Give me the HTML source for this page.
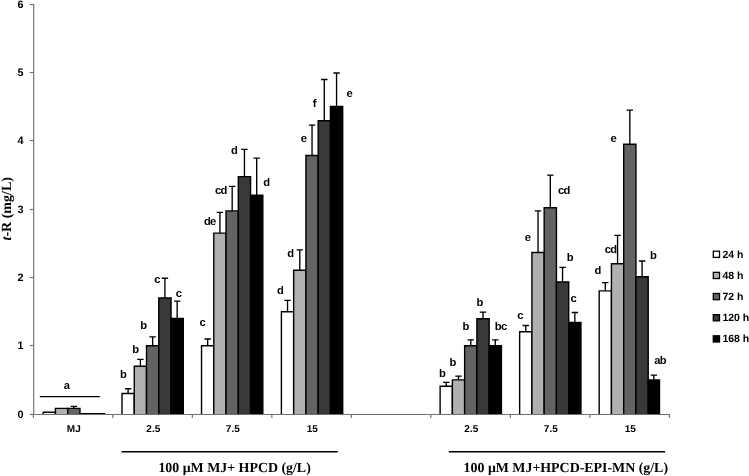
<!DOCTYPE html>
<html lang="en"><head><meta charset="utf-8"><title>t-R chart</title>
<style>html,body{margin:0;padding:0;background:#fff;}body{width:749px;height:476px;overflow:hidden;}svg{display:block;}.s{font-family:"Liberation Sans",sans-serif;font-weight:bold;fill:#000;}.t{font-family:"Liberation Serif",serif;font-weight:bold;fill:#000;}</style></head><body>
<svg width="749" height="476" viewBox="0 0 749 476" text-rendering="geometricPrecision">
<rect width="749" height="476" fill="#fff"/>
<g stroke="#000" stroke-width="1.4">
<path d="M43.20 414.5V412.30H55.46V414.5" fill="#ffffff"/>
<path d="M55.46 414.5V408.41H67.72V414.5" fill="#b0b0b0"/>
<path d="M73.85 408.41V406.36M70.65 406.36H77.05" fill="none" stroke-width="1.35"/>
<path d="M67.72 414.5V408.41H79.98V414.5" fill="#636363"/>
<path d="M79.98 414.5V413.73H92.24V414.5" fill="#393939"/>
<path d="M92.24 414.5V413.73H104.50V414.5" fill="#000000"/>
<path d="M128.13 393.54V388.77M124.93 388.77H131.33" fill="none" stroke-width="1.35"/>
<path d="M122.00 414.5V393.54H134.26V414.5" fill="#ffffff"/>
<path d="M140.39 366.26V359.44M137.19 359.44H143.59" fill="none" stroke-width="1.35"/>
<path d="M134.26 414.5V366.26H146.52V414.5" fill="#b0b0b0"/>
<path d="M152.65 345.80V336.93M149.45 336.93H155.85" fill="none" stroke-width="1.35"/>
<path d="M146.52 414.5V345.80H158.78V414.5" fill="#636363"/>
<path d="M164.91 298.06V278.28M161.71 278.28H168.11" fill="none" stroke-width="1.35"/>
<path d="M158.78 414.5V298.06H171.04V414.5" fill="#393939"/>
<path d="M177.17 318.52V301.13M173.97 301.13H180.37" fill="none" stroke-width="1.35"/>
<path d="M171.04 414.5V318.52H183.30V414.5" fill="#000000"/>
<path d="M207.66 345.80V338.98M204.46 338.98H210.86" fill="none" stroke-width="1.35"/>
<path d="M201.53 414.5V345.80H213.79V414.5" fill="#ffffff"/>
<path d="M219.92 233.13V212.33M216.72 212.33H223.12" fill="none" stroke-width="1.35"/>
<path d="M213.79 414.5V233.13H226.05V414.5" fill="#b0b0b0"/>
<path d="M232.18 210.90V186.35M228.98 186.35H235.38" fill="none" stroke-width="1.35"/>
<path d="M226.05 414.5V210.90H238.31V414.5" fill="#636363"/>
<path d="M244.44 176.66V149.38M241.24 149.38H247.64" fill="none" stroke-width="1.35"/>
<path d="M238.31 414.5V176.66H250.57V414.5" fill="#393939"/>
<path d="M256.70 195.21V158.05M253.50 158.05H259.90" fill="none" stroke-width="1.35"/>
<path d="M250.57 414.5V195.21H262.83V414.5" fill="#000000"/>
<path d="M287.53 311.70V300.31M284.33 300.31H290.73" fill="none" stroke-width="1.35"/>
<path d="M281.40 414.5V311.70H293.66V414.5" fill="#ffffff"/>
<path d="M299.79 270.30V249.84M296.59 249.84H302.99" fill="none" stroke-width="1.35"/>
<path d="M293.66 414.5V270.30H305.92V414.5" fill="#b0b0b0"/>
<path d="M312.05 155.52V125.17M308.85 125.17H315.25" fill="none" stroke-width="1.35"/>
<path d="M305.92 414.5V155.52H318.18V414.5" fill="#636363"/>
<path d="M324.31 120.74V79.48M321.11 79.48H327.51" fill="none" stroke-width="1.35"/>
<path d="M318.18 414.5V120.74H330.44V414.5" fill="#393939"/>
<path d="M336.57 106.42V73.00M333.37 73.00H339.77" fill="none" stroke-width="1.35"/>
<path d="M330.44 414.5V106.42H342.70V414.5" fill="#000000"/>
<path d="M446.25 386.24V382.36M443.05 382.36H449.45" fill="none" stroke-width="1.35"/>
<path d="M440.12 414.5V386.24H452.38V414.5" fill="#ffffff"/>
<path d="M458.51 379.90V376.15M455.31 376.15H461.71" fill="none" stroke-width="1.35"/>
<path d="M452.38 414.5V379.90H464.64V414.5" fill="#b0b0b0"/>
<path d="M470.77 345.80V339.80M467.57 339.80H473.97" fill="none" stroke-width="1.35"/>
<path d="M464.64 414.5V345.80H476.90V414.5" fill="#636363"/>
<path d="M483.03 318.79V312.11M479.83 312.11H486.23" fill="none" stroke-width="1.35"/>
<path d="M476.90 414.5V318.79H489.16V414.5" fill="#393939"/>
<path d="M495.29 345.80V339.80M492.09 339.80H498.49" fill="none" stroke-width="1.35"/>
<path d="M489.16 414.5V345.80H501.42V414.5" fill="#000000"/>
<path d="M525.78 331.82V325.48M522.58 325.48H528.98" fill="none" stroke-width="1.35"/>
<path d="M519.65 414.5V331.82H531.91V414.5" fill="#ffffff"/>
<path d="M538.04 252.43V210.83M534.84 210.83H541.24" fill="none" stroke-width="1.35"/>
<path d="M531.91 414.5V252.43H544.17V414.5" fill="#b0b0b0"/>
<path d="M550.30 207.69V175.10M547.10 175.10H553.50" fill="none" stroke-width="1.35"/>
<path d="M544.17 414.5V207.69H556.43V414.5" fill="#636363"/>
<path d="M562.56 282.03V267.37M559.36 267.37H565.76" fill="none" stroke-width="1.35"/>
<path d="M556.43 414.5V282.03H568.69V414.5" fill="#393939"/>
<path d="M574.82 322.41V312.52M571.62 312.52H578.02" fill="none" stroke-width="1.35"/>
<path d="M568.69 414.5V322.41H580.95V414.5" fill="#000000"/>
<path d="M605.31 290.83V282.65M602.11 282.65H608.51" fill="none" stroke-width="1.35"/>
<path d="M599.18 414.5V290.83H611.44V414.5" fill="#ffffff"/>
<path d="M617.57 263.69V235.32M614.37 235.32H620.77" fill="none" stroke-width="1.35"/>
<path d="M611.44 414.5V263.69H623.70V414.5" fill="#b0b0b0"/>
<path d="M629.83 144.20V110.10M626.63 110.10H633.03" fill="none" stroke-width="1.35"/>
<path d="M623.70 414.5V144.20H635.96V414.5" fill="#636363"/>
<path d="M642.09 276.71V261.03M638.89 261.03H645.29" fill="none" stroke-width="1.35"/>
<path d="M635.96 414.5V276.71H648.22V414.5" fill="#393939"/>
<path d="M653.85 379.90V375.19M650.65 375.19H657.05" fill="none" stroke-width="1.35"/>
<path d="M648.22 414.5V379.90H659.48V414.5" fill="#000000"/>
</g>
<g stroke="#707070" stroke-width="1.15" fill="none">
<path d="M33.70 4V414.5"/>
<path d="M33.35 414.5H669.9"/>
<path d="M29.65 414.5H33.85"/>
<path d="M29.65 345.5H33.85"/>
<path d="M29.65 277.5H33.85"/>
<path d="M29.65 209.5H33.85"/>
<path d="M29.65 140.5H33.85"/>
<path d="M29.65 72.5H33.85"/>
<path d="M29.65 4.5H33.85"/>
<path d="M33.35 414.0V418.0"/>
<path d="M112.85 414.0V418.0"/>
<path d="M192.35 414.0V418.0"/>
<path d="M271.85 414.0V418.0"/>
<path d="M351.35 414.0V418.0"/>
<path d="M430.85 414.0V418.0"/>
<path d="M510.35 414.0V418.0"/>
<path d="M589.85 414.0V418.0"/>
<path d="M669.35 414.0V418.0"/>
</g>
<text class="s" x="23.5" y="418.25" font-size="10.8" text-anchor="end">0</text>
<text class="s" x="23.5" y="349.25" font-size="10.8" text-anchor="end">1</text>
<text class="s" x="23.5" y="281.25" font-size="10.8" text-anchor="end">2</text>
<text class="s" x="23.5" y="213.25" font-size="10.8" text-anchor="end">3</text>
<text class="s" x="23.5" y="144.25" font-size="10.8" text-anchor="end">4</text>
<text class="s" x="23.5" y="76.25" font-size="10.8" text-anchor="end">5</text>
<text class="s" x="23.5" y="8.25" font-size="10.8" text-anchor="end">6</text>
<text class="s" x="73.80" y="432.1" font-size="10" text-anchor="middle">MJ</text>
<text class="s" x="153.30" y="432.1" font-size="10" text-anchor="middle">2.5</text>
<text class="s" x="232.80" y="432.1" font-size="10" text-anchor="middle">7.5</text>
<text class="s" x="312.30" y="432.1" font-size="10" text-anchor="middle">15</text>
<text class="s" x="471.30" y="432.1" font-size="10" text-anchor="middle">2.5</text>
<text class="s" x="550.80" y="432.1" font-size="10" text-anchor="middle">7.5</text>
<text class="s" x="630.30" y="432.1" font-size="10" text-anchor="middle">15</text>
<text class="s" x="66.9" y="388.6" font-size="11.2" text-anchor="middle">a</text>
<text class="s" x="123.4" y="378.3" font-size="11.2" text-anchor="middle">b</text>
<text class="s" x="135.7" y="353.4" font-size="11.2" text-anchor="middle">b</text>
<text class="s" x="143.7" y="329.4" font-size="11.2" text-anchor="middle">b</text>
<text class="s" x="157.3" y="283.0" font-size="11.2" text-anchor="middle">c</text>
<text class="s" x="178.8" y="296.5" font-size="11.2" text-anchor="middle">c</text>
<text class="s" x="202.5" y="326.1" font-size="11.2" text-anchor="middle">c</text>
<text class="s" x="209.8" y="225.3" font-size="11.2" text-anchor="middle" letter-spacing="-0.7">de</text>
<text class="s" x="220.8" y="193.7" font-size="11.2" text-anchor="middle" letter-spacing="-0.7">cd</text>
<text class="s" x="234.4" y="154.2" font-size="11.2" text-anchor="middle">d</text>
<text class="s" x="266.6" y="186.3" font-size="11.2" text-anchor="middle">d</text>
<text class="s" x="280.4" y="294.3" font-size="11.2" text-anchor="middle">d</text>
<text class="s" x="290.7" y="256.5" font-size="11.2" text-anchor="middle">d</text>
<text class="s" x="303.8" y="141.9" font-size="11.2" text-anchor="middle">e</text>
<text class="s" x="314.7" y="107.3" font-size="11.2" text-anchor="middle">f</text>
<text class="s" x="349.5" y="96.5" font-size="11.2" text-anchor="middle">e</text>
<text class="s" x="442.3" y="376.6" font-size="11.2" text-anchor="middle">b</text>
<text class="s" x="453.0" y="366.0" font-size="11.2" text-anchor="middle">b</text>
<text class="s" x="466.0" y="329.9" font-size="11.2" text-anchor="middle">b</text>
<text class="s" x="479.8" y="305.8" font-size="11.2" text-anchor="middle">b</text>
<text class="s" x="500.7" y="329.9" font-size="11.2" text-anchor="middle" letter-spacing="-0.7">bc</text>
<text class="s" x="520.3" y="319.3" font-size="11.2" text-anchor="middle">c</text>
<text class="s" x="527.9" y="240.9" font-size="11.2" text-anchor="middle">e</text>
<text class="s" x="563.9" y="193.6" font-size="11.2" text-anchor="middle" letter-spacing="-0.7">cd</text>
<text class="s" x="570.1" y="261.4" font-size="11.2" text-anchor="middle">b</text>
<text class="s" x="573.6" y="302.4" font-size="11.2" text-anchor="middle">c</text>
<text class="s" x="597.8" y="273.6" font-size="11.2" text-anchor="middle">d</text>
<text class="s" x="610.6" y="252.6" font-size="11.2" text-anchor="middle" letter-spacing="-0.7">cd</text>
<text class="s" x="613.6" y="141.5" font-size="11.2" text-anchor="middle">e</text>
<text class="s" x="653.3" y="259.3" font-size="11.2" text-anchor="middle">b</text>
<text class="s" x="660.0" y="364.2" font-size="11.2" text-anchor="middle" letter-spacing="-0.7">ab</text>
<path d="M39.8 396.7H99.8" stroke="#000" stroke-width="1.2"/>
<path d="M121.6 451.7H337.8" stroke="#000" stroke-width="1.5"/>
<path d="M448.8 451.7H665.2" stroke="#000" stroke-width="1.5"/>
<text class="t" x="234.6" y="471.6" font-size="13.9" text-anchor="middle">100 μM MJ+ HPCD (g/L)</text>
<text class="t" x="565.8" y="471.6" font-size="13.9" text-anchor="middle">100 μM MJ+HPCD-EPI-MN (g/L)</text>
<text class="t" transform="translate(11.3 208.8) rotate(-90)" font-size="14" text-anchor="middle"><tspan font-style="italic">t</tspan>-R (mg/L)</text>
<rect x="713.3" y="251.20" width="6.2" height="6.2" fill="#ffffff" stroke="#000" stroke-width="1.3"/>
<text class="s" x="722.4" y="257.80" font-size="10.5">24 h</text>
<rect x="713.3" y="272.35" width="6.2" height="6.2" fill="#b0b0b0" stroke="#000" stroke-width="1.3"/>
<text class="s" x="722.4" y="278.95" font-size="10.5">48 h</text>
<rect x="713.3" y="293.50" width="6.2" height="6.2" fill="#636363" stroke="#000" stroke-width="1.3"/>
<text class="s" x="722.4" y="300.10" font-size="10.5">72 h</text>
<rect x="713.3" y="314.65" width="6.2" height="6.2" fill="#393939" stroke="#000" stroke-width="1.3"/>
<text class="s" x="722.4" y="321.25" font-size="10.5">120 h</text>
<rect x="713.3" y="335.80" width="6.2" height="6.2" fill="#000000" stroke="#000" stroke-width="1.3"/>
<text class="s" x="722.4" y="342.40" font-size="10.5">168 h</text>
</svg></body></html>
